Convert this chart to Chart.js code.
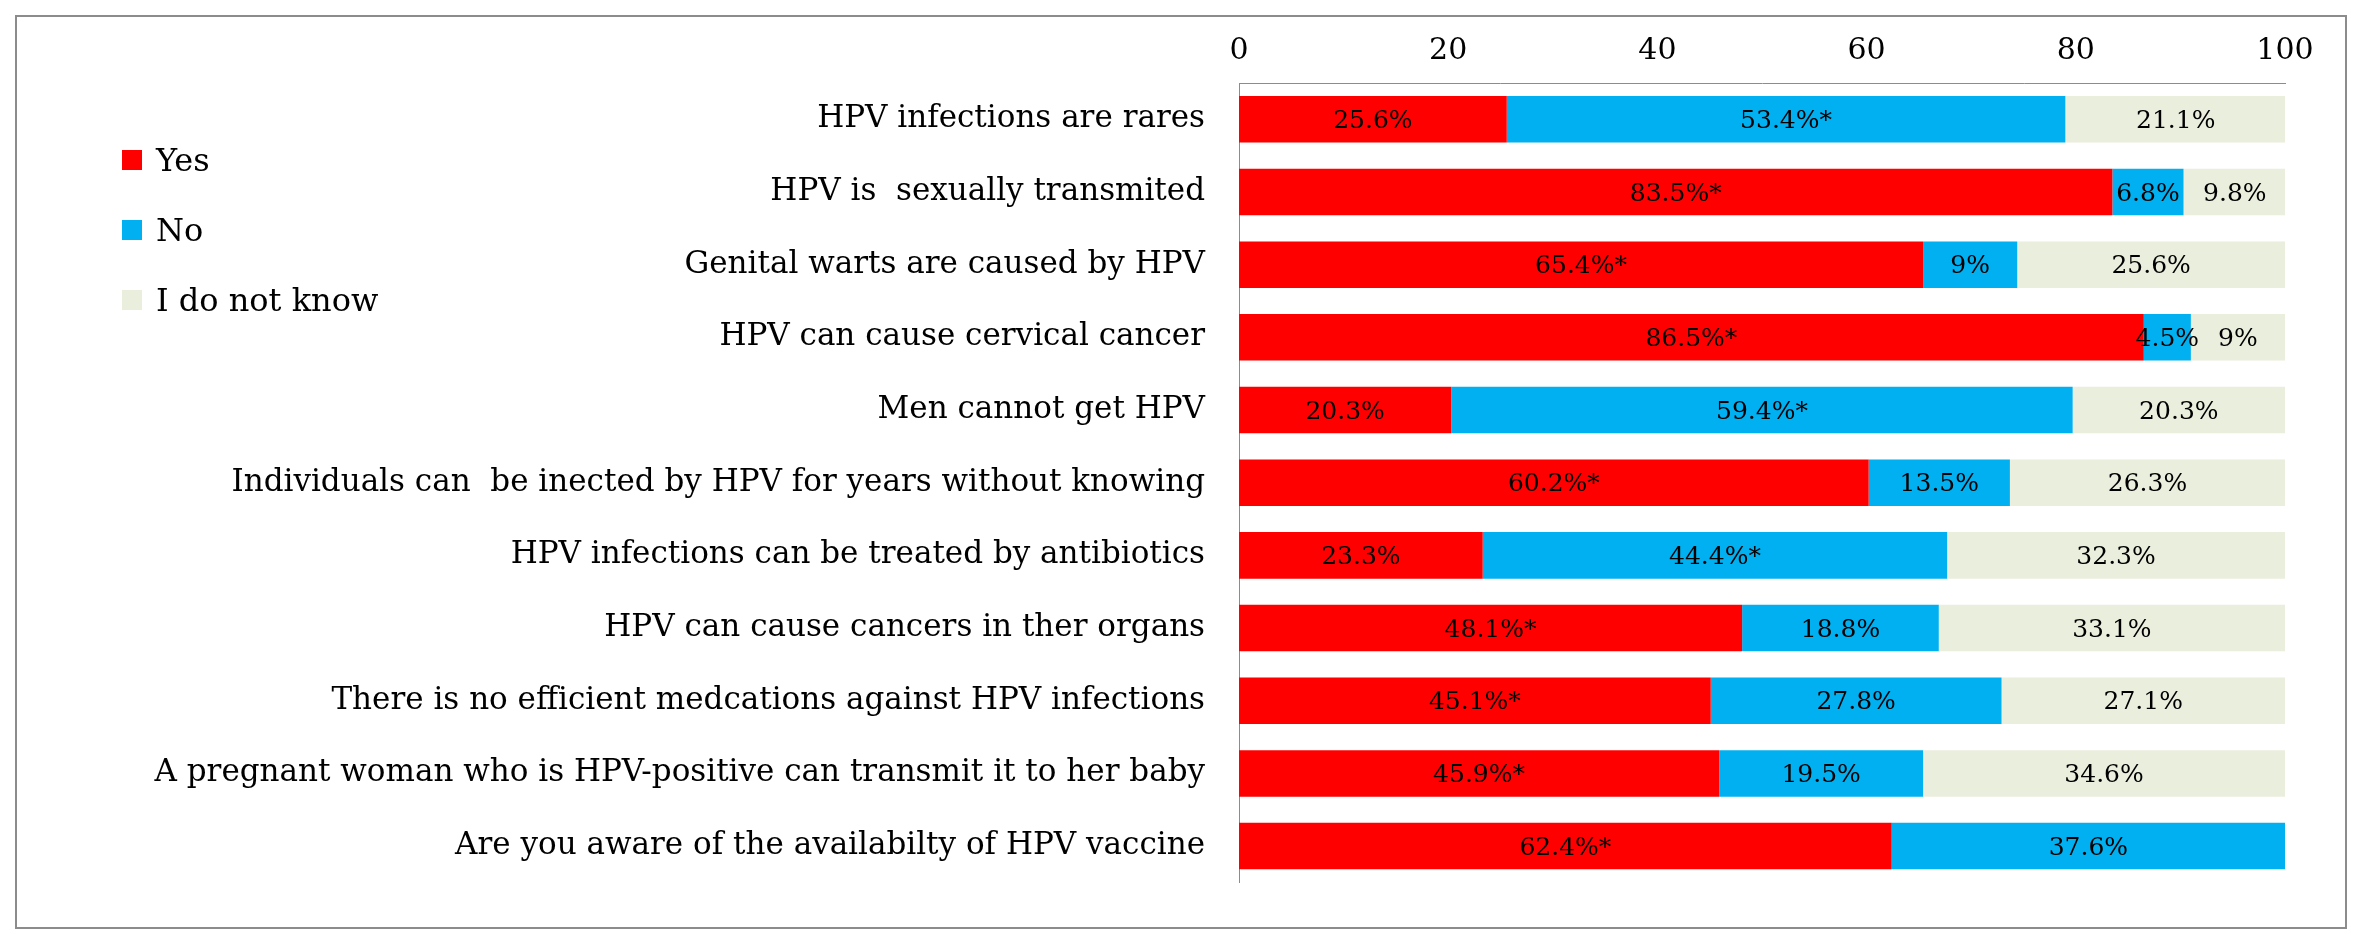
<!DOCTYPE html>
<html>
<head>
<meta charset="utf-8">
<script src="https://cdn.jsdelivr.net/npm/chart.js@4"></script>
<style>
  body { margin: 0; background: #fff; width: 2365px; height: 943px; overflow: hidden; }
  #frame { position: absolute; left: 15px; top: 15px; width: 2328px; height: 910px; border: 2px solid #8c8c8c; }
  #wrap { position: absolute; left: 0; top: 0; width: 2328px; height: 910px; }
  #legend { position: absolute; left: 105px; top: 108px; font-family: "DejaVu Serif", serif; font-size: 32px; color: #000; }
  #legend div { height: 70px; display: flex; align-items: center; }
  #legend span.sw { display: inline-block; width: 20px; height: 20px; margin-right: 14px; }
</style>
</head>
<body>
<div id="frame">
  <div id="wrap"><canvas id="chart" width="2328" height="910"></canvas></div>
  <div id="legend"></div>
</div>
<script>
const categories = [
  'HPV infections are rares',
  'HPV is  sexually transmited',
  'Genital warts are caused by HPV',
  'HPV can cause cervical cancer',
  'Men cannot get HPV',
  'Individuals can  be inected by HPV for years without knowing',
  'HPV infections can be treated by antibiotics',
  'HPV can cause cancers in ther organs',
  'There is no efficient medcations against HPV infections',
  'A pregnant woman who is HPV-positive can transmit it to her baby',
  'Are you aware of the availabilty of HPV vaccine'
];
const yesValues = [25.6, 83.5, 65.4, 86.5, 20.3, 60.2, 23.3, 48.1, 45.1, 45.9, 62.4];
const noValues = [53.4, 6.8, 9, 4.5, 59.4, 13.5, 44.4, 18.8, 27.8, 19.5, 37.6];
const dkValues = [21.1, 9.8, 25.6, 9, 20.3, 26.3, 32.3, 33.1, 27.1, 34.6, 0];
const yesLabels = ['25.6%', '83.5%*', '65.4%*', '86.5%*', '20.3%', '60.2%*', '23.3%', '48.1%*', '45.1%*', '45.9%*', '62.4%*'];
const noLabels = ['53.4%*', '6.8%', '9%', '4.5%', '59.4%*', '13.5%', '44.4%*', '18.8%', '27.8%', '19.5%', '37.6%'];
const dkLabels = ['21.1%', '9.8%', '25.6%', '9%', '20.3%', '26.3%', '32.3%', '33.1%', '27.1%', '34.6%', ''];
const xTicks = [0, 20, 40, 60, 80, 100];

const serif = '"DejaVu Serif", serif';

const series = [
  { label: 'Yes', data: yesValues, texts: yesLabels, color: '#ff0000' },
  { label: 'No', data: noValues, texts: noLabels, color: '#00b0f0' },
  { label: 'I do not know', data: dkValues, texts: dkLabels, color: '#eaeedd' }
];

document.getElementById('legend').innerHTML = series.map(s =>
  `<div><span class="sw" style="background:${s.color}"></span>${s.label}</div>`).join('');

const segmentLabels = {
  id: 'segmentLabels',
  afterDatasetsDraw(chart) {
    const ctx = chart.ctx;
    ctx.save();
    ctx.font = '25px ' + serif;
    ctx.fillStyle = '#000';
    ctx.textAlign = 'center';
    ctx.textBaseline = 'middle';
    chart.data.datasets.forEach((ds, i) => {
      chart.getDatasetMeta(i).data.forEach((bar, j) => {
        const t = ds.texts[j];
        if (!t) return;
        ctx.fillText(t, (bar.x + bar.base) / 2, bar.y + 2);
      });
    });
    ctx.restore();
  }
};

new Chart(document.getElementById('chart'), {
  type: 'bar',
  data: {
    labels: categories,
    datasets: series.map(s => ({
      label: s.label, data: s.data, texts: s.texts,
      backgroundColor: s.color, borderWidth: 0
    }))
  },
  options: {
    indexAxis: 'y',
    responsive: false,
    animation: false,
    devicePixelRatio: 1,
    layout: { padding: { top: 10, right: 60, bottom: 12, left: 0 } },
    plugins: { legend: { display: false }, tooltip: { enabled: false } },
    datasets: { bar: { barPercentage: 0.64, categoryPercentage: 1 } },
    scales: {
      x: {
        position: 'top', stacked: true, min: 0, max: 100,
        afterBuildTicks: s => { s.ticks = xTicks.map(v => ({ value: v })); },
        grid: { display: false, drawTicks: true, tickLength: 8, color: '#8c8c8c' },
        border: { color: '#8c8c8c' },
        ticks: { font: { family: serif, size: 30 }, color: '#000', padding: 6 }
      },
      y: {
        stacked: true,
        afterFit: s => { s.width = 1222; },
        grid: { display: false },
        border: { color: '#8c8c8c' },
        ticks: { font: { family: serif, size: 31 }, color: '#000', padding: 26 }
      }
    }
  },
  plugins: [segmentLabels]
});
</script>
</body>
</html>
